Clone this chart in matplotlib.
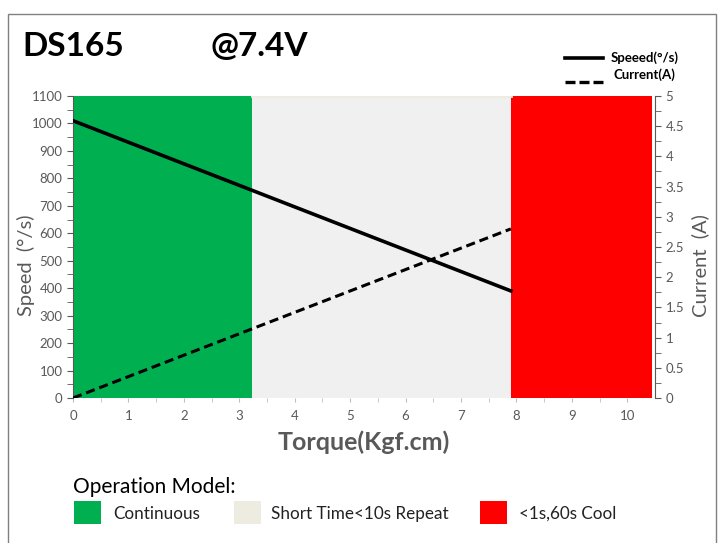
import matplotlib.pyplot as plt
from matplotlib.patches import Rectangle
from matplotlib.lines import Line2D

plt.rcParams['font.family'] = ['Lato', 'DejaVu Sans']

# data
torque = [0, 7.9]
speed = [1010, 390]
current = [0, 2.8]

# operation zones (torque ranges)
zone_names = ['Continuous', 'Short Time<10s Repeat', '<1s,60s Cool']
zone_start = [0, 3.23, 7.9]
zone_end = [3.23, 7.9, 10.45]
zone_colors = ['#00B050', '#F0F0F0', '#FF0000']
zone_patch_colors = ['#00B050', '#EEECE1', '#FF0000']

grey = '#595959'

fig = plt.figure(figsize=(7.23, 5.43), dpi=100)
ax = fig.add_axes([73 / 723, 1 - 398 / 543, (655 - 73) / 723, (398 - 96) / 543])
ax2 = ax.twinx()

for s, e, c in zip(zone_start, zone_end, zone_colors):
    ax.axvspan(s, e, color=c, lw=0, zorder=0)
ax.axhline(1100, xmin=zone_start[1] / 10.5, xmax=zone_end[1] / 10.5,
           color='#EEECE1', lw=2, zorder=1)

ax.plot(torque, speed, color='black', lw=2.6, zorder=3)
ax2.plot(torque, current, color='black', lw=2.2, ls=(0, (3, 1.6)), zorder=3)

ax.set_xlim(0, 10.5)
ax.set_ylim(0, 1100)
ax2.set_ylim(0, 5)
ax.set_xticks(range(0, 11))
ax.set_xticks([i + 0.5 for i in range(0, 10)], minor=True)
ax.set_yticks(range(0, 1101, 100))
ax.set_yticks(range(50, 1100, 100), minor=True)
ax2.set_yticks([i * 0.5 for i in range(11)])
ax2.set_yticklabels(['0', '0.5', '1', '1.5', '2', '2.5', '3', '3.5', '4', '4.5', '5'])
ax2.set_yticks([i * 0.5 + 0.25 for i in range(10)], minor=True)

for a in (ax, ax2):
    for sp in a.spines.values():
        sp.set_visible(False)
ax.spines['left'].set_visible(True)
ax.spines['left'].set_color(grey)
ax2.spines['right'].set_visible(True)
ax2.spines['right'].set_color(grey)

ax.tick_params(axis='y', colors=grey, labelsize=9.5, length=4, which='both')
ax.tick_params(axis='x', colors='#BFBFBF', labelcolor=grey, labelsize=9.5,
               length=3, which='both', direction='out', pad=6)
ax2.tick_params(axis='y', colors=grey, labelsize=9.5, length=4, which='both')

ax.set_ylabel('Speed  (°/s)', color=grey, fontsize=14.5)
ax.yaxis.set_label_coords(-0.066, 0.44)
ax2.set_ylabel('Current  (A)', color=grey, fontsize=14.5)
ax2.yaxis.set_label_coords(1.063, 0.44)
ax.set_xlabel('Torque(Kgf.cm)', color=grey, fontsize=18, fontweight='bold', labelpad=6)

# title
fig.text(22 / 723, 1 - 47 / 543, 'DS165', fontsize=24, fontweight='bold', va='center')
fig.text(210 / 723, 1 - 47 / 543, '@7.4V', fontsize=24, fontweight='bold', va='center')

# line legend
fig.add_artist(Line2D([565 / 723, 603 / 723], [1 - 58 / 543] * 2, color='black', lw=2.6))
fig.add_artist(Line2D([565 / 723, 603 / 723], [1 - 82 / 543] * 2, color='black', lw=2.4,
                      ls=(0, (3, 1.2))))
fig.text(611 / 723, 1 - 58 / 543, 'Speeed(°/s)', fontsize=9.5, fontweight='bold', va='center')
fig.text(613 / 723, 1 - 75 / 543, 'Current(A)', fontsize=9.5, fontweight='bold', va='center')

# operation model legend
fig.text(73 / 723, 1 - 487 / 543, 'Operation Model:', fontsize=15, va='center')
patch_x = [74, 234, 480]
label_x = [113, 271, 519]
for px, lx, name, c in zip(patch_x, label_x, zone_names, zone_patch_colors):
    fig.add_artist(Rectangle((px / 723, 1 - 524 / 543), 27 / 723, 23 / 543,
                             transform=fig.transFigure, color=c, lw=0))
    fig.text(lx / 723, 1 - 514 / 543, name, fontsize=12.3, va='center', color='#222222')

# outer frame
fig.add_artist(Rectangle((8 / 723, -0.01), (716 - 8) / 723, 1 - 14 / 543 + 0.01,
                         transform=fig.transFigure, fill=False, edgecolor='#808080', lw=1))

fig.savefig('out.png', dpi=100)
